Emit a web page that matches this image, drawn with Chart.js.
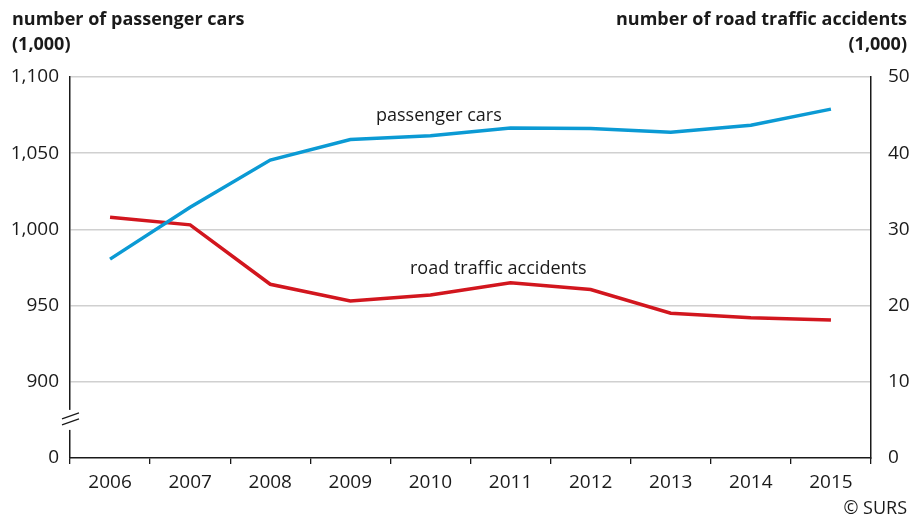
<!DOCTYPE html>
<html>
<head>
<meta charset="utf-8">
<script src="https://cdn.jsdelivr.net/npm/chart.js@4"></script>
<style>
  html, body { margin: 0; padding: 0; background: #fff; }
  #wrap { width: 910px; height: 517px; position: relative; }
</style>
</head>
<body>
<div id="wrap"><canvas id="myChart" width="910" height="517"></canvas></div>
<script>
const years = ["2006","2007","2008","2009","2010","2011","2012","2013","2014","2015"];
// passenger cars (1,000), left axis
const passengerCars = [980.5, 1014.5, 1045.5, 1059, 1061.5, 1066.5, 1066.2, 1063.8, 1068.4, 1078.9];
// road traffic accidents (1,000), right axis
const roadAccidents = [31.6, 30.6, 22.8, 20.6, 21.4, 23.0, 22.1, 19.0, 18.4, 18.1];
const leftTicks = [850, 900, 950, 1000, 1050, 1100];
const rightTicks = [0, 10, 20, 30, 40, 50];

const FONT = "'Open Sans', 'DejaVu Sans', sans-serif";
const INK = "#1a1a1a";

const overlay = {
  id: "overlay",
  afterDraw(chart) {
    const ctx = chart.ctx;
    const area = chart.chartArea;
    const yl = chart.scales.y;
    ctx.save();
    // axis titles
    ctx.fillStyle = INK;
    ctx.font = "bold 18px " + FONT;
    ctx.textBaseline = "alphabetic";
    ctx.textAlign = "left";
    ctx.fillText("number of passenger cars", 12, 25);
    ctx.fillText("(1,000)", 12, 50);
    ctx.textAlign = "right";
    ctx.fillText("number of road traffic accidents", 907, 25);
    ctx.fillText("(1,000)", 907, 50);
    // series labels
    ctx.font = "18px " + FONT;
    ctx.textAlign = "left";
    ctx.fillText("passenger cars", 376, 121);
    ctx.fillText("road traffic accidents", 410, 274);
    // source
    ctx.font = "18px " + FONT;
    ctx.textAlign = "right";
    ctx.fillText("\u00a9 SURS", 907, 514);
    // axis break on left axis
    const yb = (yl.getPixelForValue(850) + yl.getPixelForValue(900)) / 2;
    ctx.fillStyle = "#fff";
    ctx.fillRect(area.left - 4, yb - 10, 8, 20);
    ctx.strokeStyle = INK;
    ctx.lineWidth = 1.2;
    ctx.beginPath();
    ctx.moveTo(area.left - 8, yb - 1);
    ctx.lineTo(area.left + 9, yb - 7);
    ctx.moveTo(area.left - 8, yb + 5);
    ctx.lineTo(area.left + 9, yb - 1);
    ctx.stroke();
    ctx.restore();
  }
};

const config = {
  type: "line",
  data: {
    labels: years,
    datasets: [
      {
        label: "passenger cars",
        data: passengerCars,
        yAxisID: "y",
        borderColor: "#0b9ad4",
        borderWidth: 3.5,
        pointRadius: 0,
        tension: 0,
      },
      {
        label: "road traffic accidents",
        data: roadAccidents,
        yAxisID: "y1",
        borderColor: "#d2161e",
        borderWidth: 3.5,
        pointRadius: 0,
        tension: 0,
      },
    ],
  },
  options: {
    responsive: false,
    animation: false,
    layout: { padding: { top: 77, left: 0, right: 0, bottom: 0 } },
    plugins: {
      legend: { display: false },
      tooltip: { enabled: false },
    },
    scales: {
      x: {
        offset: true,
        grid: {
          display: true,
          drawOnChartArea: false,
          offset: true,
          tickLength: 6,
          color: INK,
          lineWidth: 1.3,
        },
        border: { display: true, color: INK, width: 1.5 },
        ticks: { color: INK, font: { family: FONT, size: 19 }, padding: 7 },
        afterFit(scale) { scale.height = 59; },
      },
      y: {
        position: "left",
        min: 850,
        max: 1100,
        afterBuildTicks(scale) { scale.ticks = leftTicks.map(v => ({ value: v })); },
        grid: {
          drawTicks: false,
          color: (c) => (c.tick && c.tick.value === 850 ? "rgba(0,0,0,0)" : "#d0d0d0"),
          lineWidth: 1.5,
        },
        border: { display: true, color: INK, width: 1.5 },
        ticks: {
          color: INK,
          font: { family: FONT, size: 19 },
          padding: 11,
          callback: (v) => (v === 850 ? "0" : v.toLocaleString("en-US")),
        },
        afterFit(scale) { scale.width = 70; },
      },
      y1: {
        position: "right",
        min: 0,
        max: 50,
        afterBuildTicks(scale) { scale.ticks = rightTicks.map(v => ({ value: v })); },
        grid: { drawOnChartArea: false, drawTicks: false },
        border: { display: true, color: INK, width: 1.5 },
        ticks: { color: INK, font: { family: FONT, size: 19 }, padding: 17 },
        afterFit(scale) { scale.width = 39; },
      },
    },
  },
  plugins: [overlay],
};

const ctx = document.getElementById("myChart").getContext("2d");
const myChart = new Chart(ctx, config);
</script>
</body>
</html>
